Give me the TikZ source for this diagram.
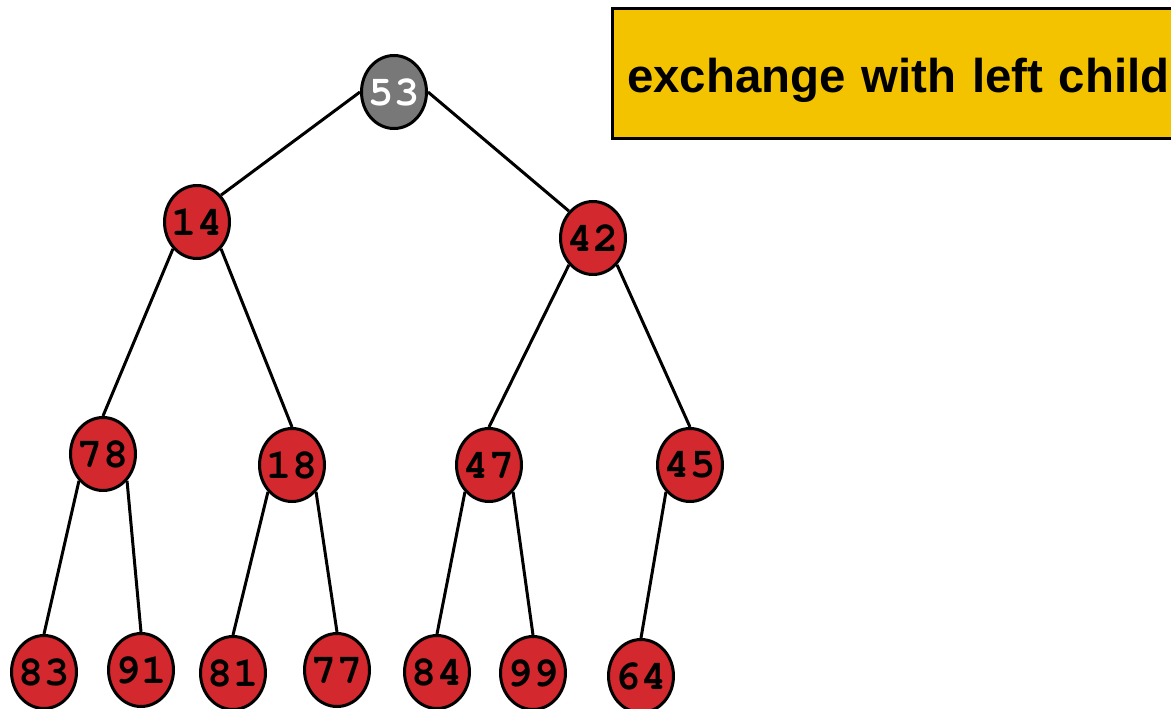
\documentclass[tikz,border=0pt]{standalone}
\usepackage{fontspec}
\setmainfont{Liberation Sans}
\newfontfamily\keyfont{TeX Gyre Cursor}
\usetikzlibrary{positioning,shapes.geometric}
\definecolor{heapred}{RGB}{210,40,46}
\definecolor{heapgray}{RGB}{120,120,120}
\definecolor{notegold}{RGB}{243,195,0}
\newcommand\hkey[1]{\makebox[0pt]{#1}}

\begin{document}
\begin{tikzpicture}[x=1pt,y=-1pt,
    key/.style={ellipse,draw,line width=3pt,fill=heapred,minimum width=65pt,
      minimum height=73pt,inner sep=0pt,font=\keyfont\bfseries\fontsize{42}{42}\selectfont},
    moving/.style={key,fill=heapgray,text=white},
    link/.style={line width=3pt}]
    \useasboundingbox (0,0) rectangle (1171,709);

      % Note
      \node[draw,line width=3pt,fill=notegold,anchor=west,minimum width=600pt,
        minimum height=129pt,inner xsep=14pt,text width=571pt,align=left,
        text height=42pt,text depth=4pt,
        font=\bfseries\fontsize{47.4}{47.4}\selectfont] (note) at (611,73.5)
        {exchange with left child};

      % Root
      \node[moving] (53) at (394,92) {\hkey{53}};

      % Level 1
      \node[key] (14) at (197,222) {\hkey{14}};
      \node[key] (42) at (593,238) {\hkey{42}};

      % Level 2
      \node[key] (78) at (103,454) {\hkey{78}};
      \node[key] (18) at (292,465) {\hkey{18}};
      \node[key] (47) at (489,465) {\hkey{47}};
      \node[key] (45) at (690,465) {\hkey{45}};

      % Leaves
      \node[key] (83) at (44,672) {\hkey{83}};
      \node[key] (91) at (141,670) {\hkey{91}};
      \node[key] (81) at (233,673) {\hkey{81}};
      \node[key] (77) at (337,670) {\hkey{77}};
      \node[key] (84) at (437,672) {\hkey{84}};
      \node[key] (99) at (533,673) {\hkey{99}};
      \node[key] (64) at (641,676) {\hkey{64}};

      % Edges
      \draw[link] (53.west) -- (14.north east);
      \draw[link] (53.east) -- (42.north west);
      \draw[link] (14.south west) -- (78.north);
      \draw[link] (14.south east) -- (18.north);
      \draw[link] (42.south west) -- (47.north);
      \draw[link] (42.south east) -- (45.north);
      \draw[link] (78.south west) -- (83.north);
      \draw[link] (78.south east) -- (91.north);
      \draw[link] (18.south west) -- (81.north);
      \draw[link] (18.south east) -- (77.north);
      \draw[link] (47.south west) -- (84.north);
      \draw[link] (47.south east) -- (99.north);
      \draw[link] (45.south west) -- (64.north);
  \end{tikzpicture}
\end{document}
